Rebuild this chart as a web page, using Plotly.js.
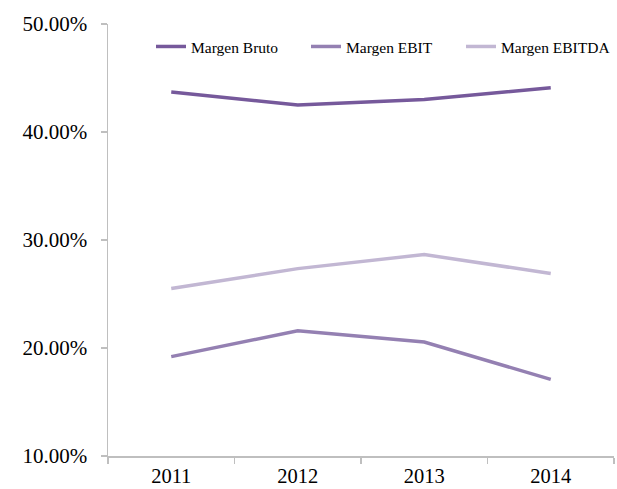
<!DOCTYPE html>
<html>
<head>
<meta charset="utf-8">
<script src="https://cdn.plot.ly/plotly-3.0.1.min.js"></script>
<style>html,body{margin:0;padding:0;background:#fff;}#chart{width:617px;height:489px;}</style>
</head>
<body>
<div id="chart"></div>
<script>
const years = ['2011', '2012', '2013', '2014'];
const margenBruto = [0.437, 0.425, 0.430, 0.441];
const margenEBIT = [0.192, 0.216, 0.2055, 0.171];
const margenEBITDA = [0.255, 0.2735, 0.2865, 0.269];

const seriesNames = ['Margen Bruto', 'Margen EBIT', 'Margen EBITDA'];
const seriesValues = [margenBruto, margenEBIT, margenEBITDA];
const seriesColors = ['#76599b', '#9480b2', '#c2b7d3'];

const traces = seriesValues.map((v, i) => ({
  type: 'scatter',
  mode: 'lines',
  x: years,
  y: v,
  name: seriesNames[i],
  line: {color: seriesColors[i], width: 3.5},
  hoverinfo: 'skip'
}));

const layout = {
  width: 617,
  height: 489,
  margin: {l: 108, r: 1, t: 24, b: 33, pad: 0},
  paper_bgcolor: '#ffffff',
  plot_bgcolor: '#ffffff',
  font: {family: '"Liberation Serif", "Times New Roman", serif', color: '#000000', size: 21},
  showlegend: true,
  legend: {
    orientation: 'h',
    x: 0.085, xanchor: 'left',
    y: 0.947, yanchor: 'middle',
    font: {size: 15.5, color: '#000000'},
    entrywidth: 110, entrywidthmode: 'pixels',
    bgcolor: 'rgba(0,0,0,0)'
  },
  xaxis: {
    type: 'category',
    range: [-0.5, 3.5],
    showgrid: false,
    zeroline: false,
    showline: true,
    linecolor: '#bfbfbf',
    linewidth: 1.5,
    ticks: 'outside',
    tickson: 'boundaries',
    ticklen: 6,
    tickcolor: '#bfbfbf',
    tickwidth: 1.5,
    tickfont: {size: 20.5},
    ticklabelstandoff: 1,
    automargin: false
  },
  yaxis: {
    range: [0.10, 0.50],
    dtick: 0.1,
    tick0: 0.1,
    tickformat: '.2%',
    showgrid: false,
    zeroline: false,
    showline: true,
    linecolor: '#bfbfbf',
    linewidth: 1.5,
    ticks: 'outside',
    ticklen: 6,
    tickcolor: '#bfbfbf',
    tickwidth: 1.5,
    tickfont: {size: 21},
    ticklabelstandoff: 9,
    automargin: false
  }
};

Plotly.newPlot('chart', traces, layout, {displayModeBar: false, staticPlot: true});
</script>
</body>
</html>
